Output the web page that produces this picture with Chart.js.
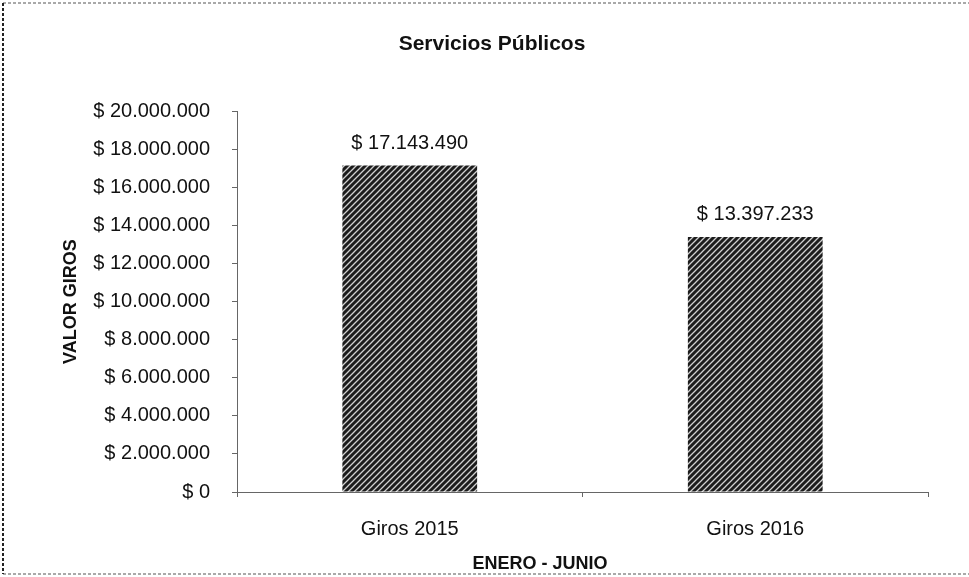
<!DOCTYPE html>
<html>
<head>
<meta charset="utf-8">
<script src="https://cdn.jsdelivr.net/npm/chart.js@4"></script>
<style>
  body { margin: 0; background: #fff; }
  #wrap { width: 969px; height: 577px; position: relative; }
</style>
</head>
<body>
<div id="wrap"><canvas id="myChart"></canvas></div>
<script>
// datos del grafico
const categorias = ['Giros 2015', 'Giros 2016'];
const valores = [17143490, 13397233];
const tituloGrafico = 'Servicios Públicos';
const tituloY = 'VALOR GIROS';
const tituloX = 'ENERO - JUNIO';
const ejeMax = 20000000;
const ejePaso = 2000000;

// formato $ 17.143.490
function pesos(n) {
  return '$ ' + Math.round(n).toString().replace(/\B(?=(\d{3})+(?!\d))/g, '.');
}

// relleno rayado de las barras
function rayas() {
  const c = document.createElement('canvas');
  c.width = 6; c.height = 6;
  const g = c.getContext('2d');
  g.fillStyle = '#1c1c1c';
  g.fillRect(0, 0, 6, 6);
  g.strokeStyle = '#d0d0d0';
  g.lineWidth = 1.3;
  g.beginPath();
  g.moveTo(0, 6); g.lineTo(6, 0);
  g.moveTo(-1, 1); g.lineTo(1, -1);
  g.moveTo(5, 7); g.lineTo(7, 5);
  g.stroke();
  return g.createPattern(c, 'repeat');
}

const familia = '"Liberation Sans", Arial, sans-serif';

// marco punteado, fondo y titulo del eje X
const marco = {
  id: 'marco',
  beforeDraw(chart) {
    const ctx = chart.ctx;
    ctx.save();
    ctx.fillStyle = '#fff';
    ctx.fillRect(0, 0, chart.width, chart.height);
    ctx.setLineDash([3, 2]);
    ctx.strokeStyle = '#555';
    ctx.lineWidth = 1.2;
    ctx.beginPath();
    ctx.moveTo(3, 3); ctx.lineTo(chart.width, 3);
    ctx.moveTo(3, chart.height - 3); ctx.lineTo(chart.width, chart.height - 3);
    ctx.stroke();
    ctx.strokeStyle = '#222';
    ctx.lineWidth = 2;
    ctx.beginPath();
    ctx.moveTo(3, 3); ctx.lineTo(3, chart.height - 3);
    ctx.stroke();
    ctx.restore();
  },
  afterDraw(chart) {
    const ctx = chart.ctx;
    ctx.save();
    ctx.font = 'bold 18px ' + familia;
    ctx.fillStyle = '#111';
    ctx.textAlign = 'center';
    ctx.textBaseline = 'middle';
    ctx.fillText(tituloX, 540, 564);
    ctx.restore();
  }
};

// etiquetas de valor encima de las barras
const etiquetas = {
  id: 'etiquetas',
  afterDatasetsDraw(chart) {
    const ctx = chart.ctx;
    const meta = chart.getDatasetMeta(0);
    ctx.save();
    ctx.font = '20px ' + familia;
    ctx.fillStyle = '#111';
    ctx.textAlign = 'center';
    ctx.textBaseline = 'middle';
    meta.data.forEach((bar, i) => {
      ctx.fillText(pesos(valores[i]), bar.x, bar.y - 22);
    });
    ctx.restore();
  }
};

const ejeColor = '#666';
const fuente = { family: familia, size: 20 };

const ctx = document.getElementById('myChart').getContext('2d');
const myChart = new Chart(ctx, {
  type: 'bar',
  data: {
    labels: categorias,
    datasets: [{
      data: valores,
      backgroundColor: rayas(),
      borderWidth: 0,
      barPercentage: 0.39,
      categoryPercentage: 1
    }]
  },
  options: {
    responsive: true,
    maintainAspectRatio: false,
    animation: false,
    layout: { padding: { left: 56, right: 41, top: 32, bottom: 0 } },
    plugins: {
      legend: { display: false },
      tooltip: { enabled: false },
      title: {
        display: true,
        text: tituloGrafico,
        color: '#111',
        font: { family: familia, size: 21, weight: 'bold' },
        padding: { top: 0, bottom: 54 }
      }
    },
    scales: {
      x: {
        afterFit(scale) { scale.height = 85; },
        grid: {
          drawOnChartArea: false,
          drawTicks: true,
          tickLength: 5,
          color: ejeColor,
          offset: true
        },
        border: { color: ejeColor, dash: [2, 2] },
        ticks: { color: '#111', font: fuente, padding: 20 }
      },
      y: {
        min: 0,
        max: ejeMax,
        afterFit(scale) { scale.width = 181; },
        grid: {
          drawOnChartArea: false,
          drawTicks: true,
          tickLength: 5,
          color: ejeColor
        },
        border: { color: ejeColor, dash: [2, 2] },
        ticks: {
          stepSize: ejePaso,
          color: '#111',
          font: fuente,
          padding: 22,
          callback: (v) => pesos(v)
        },
        title: {
          display: true,
          text: tituloY,
          color: '#111',
          font: { family: familia, size: 18, weight: 'bold' },
          padding: { top: 4, bottom: 0 }
        }
      }
    }
  },
  plugins: [marco, etiquetas]
});
</script>
</body>
</html>
